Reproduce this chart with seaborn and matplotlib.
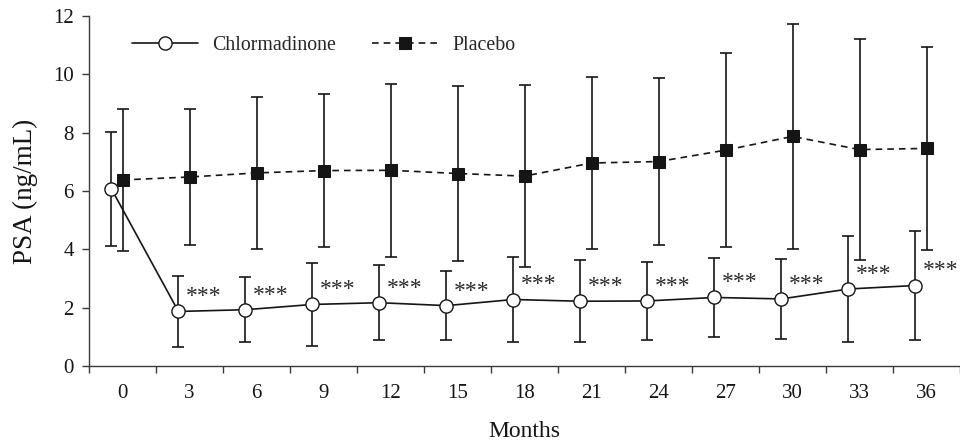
"""PSA over 36 months: chlormadinone vs placebo (mean +/- SD)."""

import numpy as np
import pandas as pd
import seaborn as sns
import matplotlib

matplotlib.use("Agg")
from matplotlib import pyplot as plt

# values
months = ["0", "3", "6", "9", "12", "15", "18", "21", "24", "27", "30", "33", "36"]
chlor_mean = [6.07, 1.87, 1.93, 2.11, 2.17, 2.07, 2.28, 2.22, 2.23, 2.35, 2.30, 2.64, 2.76]
chlor_sd = [1.96, 1.22, 1.12, 1.42, 1.29, 1.19, 1.46, 1.40, 1.34, 1.36, 1.37, 1.82, 1.87]
placebo_mean = [6.38, 6.48, 6.62, 6.70, 6.71, 6.60, 6.51, 6.96, 7.01, 7.40, 7.87, 7.42, 7.46]
placebo_sd = [2.44, 2.33, 2.60, 2.63, 2.97, 3.00, 3.12, 2.95, 2.86, 3.33, 3.86, 3.79, 3.48]
star_label = "***"

INK = "#151515"
AXIS = "#3a3a3a"
SERIF = ["Liberation Serif", "DejaVu Serif"]

sns.set_theme(style="ticks")
plt.rcParams["font.family"] = SERIF
plt.rcParams["axes.edgecolor"] = AXIS

idx = np.arange(len(months))
chlor_x = idx - 0.165

data = pd.DataFrame({
    "pos_c": chlor_x,
    "pos_p": idx,
    "chlor": chlor_mean,
    "placebo": placebo_mean,
})

fig = plt.figure(figsize=(9.6, 4.43), dpi=100)
ax = fig.add_axes([89 / 960, 77 / 443, 871 / 960, 350 / 443])

ax.errorbar(idx, placebo_mean, yerr=placebo_sd, fmt="none", ecolor=INK,
            elinewidth=1.2, capsize=4, capthick=1.2, zorder=2)
ax.errorbar(chlor_x, chlor_mean, yerr=chlor_sd, fmt="none", ecolor=INK,
            elinewidth=1.2, capsize=4, capthick=1.2, zorder=2)

sns.lineplot(data=data, x="pos_p", y="placebo", ax=ax, color=INK, linewidth=1.2,
             linestyle=(0, (4, 3)), marker="s", markersize=9, markerfacecolor=INK,
             markeredgecolor=INK, label="Placebo", zorder=3)
sns.lineplot(data=data, x="pos_c", y="chlor", ax=ax, color=INK, linewidth=1.2,
             marker="o", markersize=9.5, markerfacecolor="white",
             markeredgecolor=INK, markeredgewidth=1.0, label="Chlormadinone", zorder=4)

for i in idx[1:]:
    ax.text(i + 0.21, chlor_mean[i] + 0.5, star_label, ha="center", va="center",
            fontsize=17, color="#2a2a2a", clip_on=False)

ax.set_xlim(-0.5, -0.5 + 871 / 67.4)
ax.set_ylim(0, 12)
ax.set_yticks(np.arange(0, 13, 2))
ax.set_xticks(idx)
ax.set_xticklabels(months)
ax.set_xticks(np.arange(-0.5, 13, 1), minor=True)
ax.tick_params(axis="x", which="major", length=0, pad=13, labelsize=15, colors=INK)
ax.tick_params(axis="x", which="minor", length=5, width=1, direction="out", color=AXIS)
ax.tick_params(axis="y", length=5, width=1, direction="out", pad=6, labelsize=15,
               labelcolor=INK, color=AXIS)

ax.set_xlabel("Months", fontsize=17, labelpad=13, color=INK)
ax.set_ylabel("PSA (ng/mL)", fontsize=19.5, labelpad=11, color=INK)

sns.despine(ax=ax)
ax.spines["left"].set_linewidth(1)
ax.spines["bottom"].set_linewidth(1)

handles, labels = ax.get_legend_handles_labels()
order = [labels.index("Chlormadinone"), labels.index("Placebo")]
ax.legend([handles[k] for k in order], [labels[k] for k in order], ncol=2,
          loc="center left", bbox_to_anchor=(43 / 871, 0.917), frameon=False,
          fontsize=14.3, borderpad=0, borderaxespad=0, handlelength=3.3,
          handletextpad=0.75, columnspacing=1.8)

fig.savefig("out.png", dpi=100)
